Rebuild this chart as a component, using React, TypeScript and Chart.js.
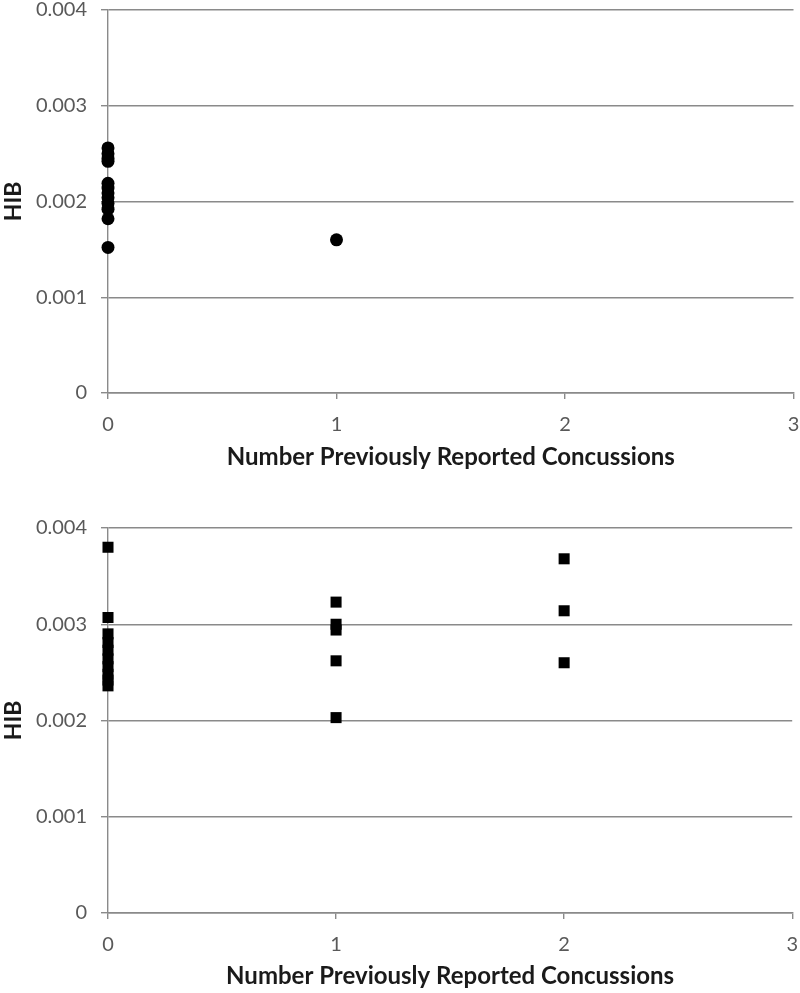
import React, { useEffect, useRef } from "react";
import { Chart, registerables } from "chart.js";

Chart.register(...registerables);

const xTicks = [0, 1, 2, 3];
const yTicks = [0, 0.001, 0.002, 0.003, 0.004];
const xTitle = "Number Previously Reported Concussions";
const yTitle = "HIB";

// Top panel (circles)
const topConc0 = [0.00256, 0.0025, 0.00245, 0.00242, 0.00219, 0.00214, 0.00209, 0.00204, 0.00198, 0.00192, 0.00182, 0.00152];
const topConc1 = [0.0016];

// Bottom panel (squares)
const botConc0 = [0.0038, 0.00307, 0.0029, 0.00281, 0.00273, 0.00264, 0.00256, 0.00248, 0.00242, 0.00236];
const botConc1 = [0.00323, 0.003, 0.00294, 0.00262, 0.00203];
const botConc2 = [0.00368, 0.00314, 0.0026];

type Pt = { x: number; y: number };
const toPts = (x: number, ys: number[]): Pt[] => ys.map((y) => ({ x, y }));

const GRID = "#8a8a8a";
const TICK = "#595959";
const FONT = "Lato";

function Panel({ data, pointStyle, radius, height, padTop, plotBottom }: { data: Pt[]; pointStyle: any; radius: number; height: number; padTop: number; plotBottom: number }) {
  const ref = useRef<HTMLCanvasElement | null>(null);
  useEffect(() => {
    if (!ref.current) return;
    const chart = new Chart(ref.current, {
      type: "scatter",
      data: {
        datasets: [
          {
            data,
            pointStyle,
            pointRadius: radius,
            pointHoverRadius: radius,
            backgroundColor: "#000",
            borderColor: "#000",
            borderWidth: 0,
            clip: false,
          },
        ],
      },
      options: {
        responsive: false,
        animation: false,
        events: [],
        layout: { padding: { top: padTop, right: 6, left: 0, bottom: 0 } },
        plugins: { legend: { display: false }, tooltip: { enabled: false } },
        scales: {
          x: {
            type: "linear",
            min: xTicks[0],
            max: xTicks[xTicks.length - 1],
            afterBuildTicks: (s: any) => {
              s.ticks = xTicks.map((v) => ({ value: v }));
            },
            afterFit: (s: any) => {
              s.height = height - plotBottom;
              s.paddingLeft = 0;
              s.paddingRight = 0;
            },
            ticks: {
              color: TICK,
              font: { family: FONT, size: 20 },
              padding: 14,
              callback: (v: any) => String(v),
            },
            grid: { drawOnChartArea: false, drawTicks: true, tickLength: 6, color: GRID, lineWidth: 1.4 },
            border: { display: true, color: GRID, width: 1.4 },
            title: {
              display: true,
              text: xTitle,
              color: "#1a1a1a",
              font: { family: FONT, size: 24, weight: "bold" },
              padding: { top: 0, bottom: 47 },
            },
          },
          y: {
            type: "linear",
            min: yTicks[0],
            max: yTicks[yTicks.length - 1],
            afterBuildTicks: (s: any) => {
              s.ticks = yTicks.map((v) => ({ value: v }));
            },
            afterFit: (s: any) => {
              s.width = 108;
              s.paddingTop = 0;
              s.paddingBottom = 0;
            },
            ticks: {
              color: TICK,
              font: { family: FONT, size: 20 },
              padding: 14,
              callback: (v: any) => (Number(v) === 0 ? "0" : Number(v).toFixed(3)),
            },
            grid: { drawOnChartArea: true, drawTicks: true, tickLength: 7, color: GRID, lineWidth: 1.4 },
            border: { display: true, color: GRID, width: 1.4 },
            title: {
              display: true,
              text: yTitle,
              color: "#1a1a1a",
              font: { family: FONT, size: 23, weight: "bold" },
              padding: { top: 0, bottom: 0 },
            },
          },
        },
      },
    });
    return () => chart.destroy();
  }, []);
  return <canvas ref={ref} width={800} height={height} style={{ display: "block" }} />;
}

export default function App() {
  return (
    <div style={{ position: "fixed", left: 0, top: 0, width: 800, height: 993, overflow: "hidden", background: "#fff" }}>
      <div style={{ position: "absolute", left: 0, top: 0 }}>
        <Panel
          data={[...toPts(0, topConc0), ...toPts(1, topConc1)]}
          pointStyle="circle"
          radius={6.5}
          height={519}
          padTop={10}
          plotBottom={393}
        />
      </div>
      <div style={{ position: "absolute", left: 0, top: 519 }}>
        <Panel
          data={[...toPts(0, botConc0), ...toPts(1, botConc1), ...toPts(2, botConc2)]}
          pointStyle="rect"
          radius={7.8}
          height={519}
          padTop={9}
          plotBottom={394}
        />
      </div>
    </div>
  );
}
